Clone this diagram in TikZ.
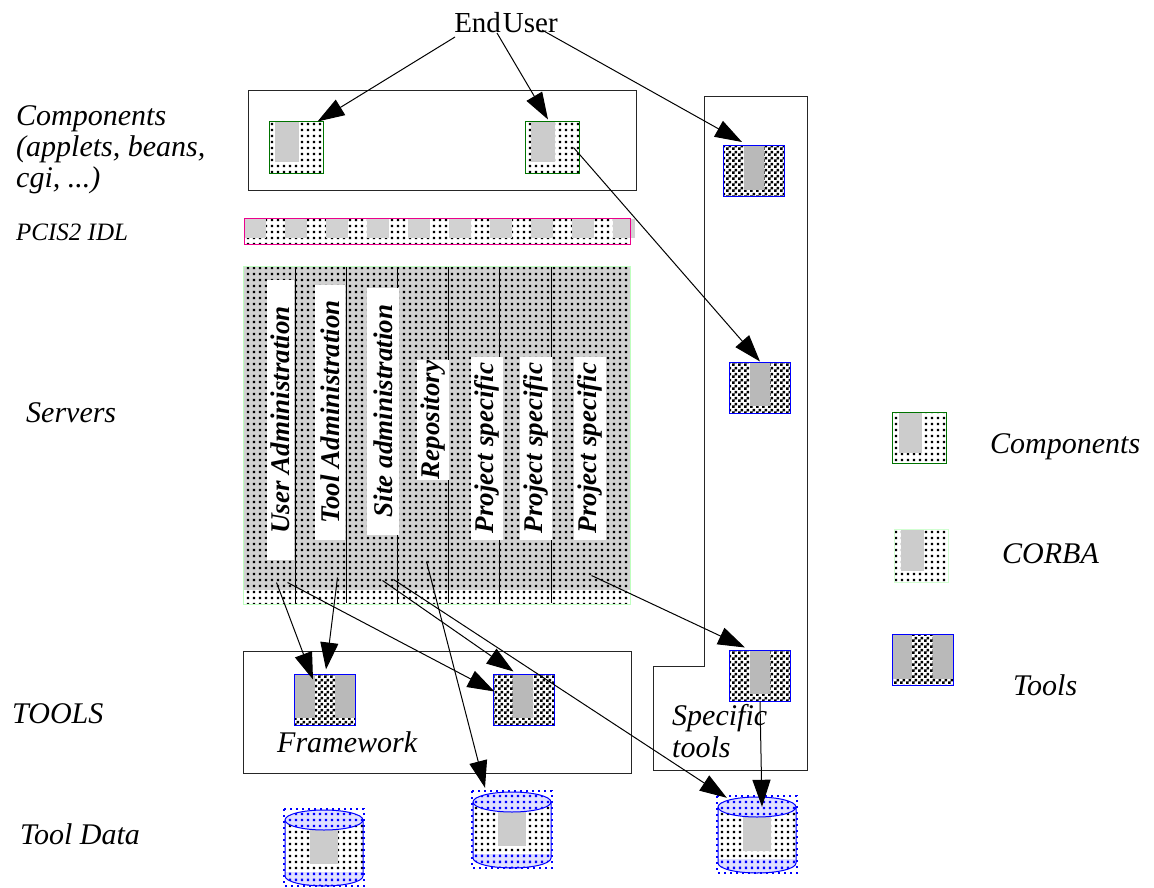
\documentclass[tikz,border=0pt]{standalone}
\usepackage{fontspec}
\setmainfont{Liberation Serif}
\usetikzlibrary{patterns,arrows.meta,calc}

% small black squares on a 6pt grid
\pgfdeclarepatternformonly{sqdots}{\pgfqpoint{0pt}{0pt}}{\pgfqpoint{6pt}{6pt}}{\pgfqpoint{6pt}{6pt}}%
{\pgfpathrectangle{\pgfqpoint{1pt}{1pt}}{\pgfqpoint{2.6pt}{2.6pt}}\pgfusepath{fill}}
% checkerboard with 3pt cells
\pgfdeclarepatternformonly{checker}{\pgfqpoint{0pt}{0pt}}{\pgfqpoint{6pt}{6pt}}{\pgfqpoint{6pt}{6pt}}%
{\pgfpathrectangle{\pgfqpoint{0pt}{0pt}}{\pgfqpoint{3pt}{3pt}}%
 \pgfpathrectangle{\pgfqpoint{3pt}{3pt}}{\pgfqpoint{3pt}{3pt}}\pgfusepath{fill}}

% data store drawn as a dotted cylinder: name, centre x, centre y
\newcommand\datastore[3]{%
  \node[minimum width=78, minimum height=76, inner sep=0] (#1) at (#2,#3) {};
  \begin{scope}[shift={(#2,#3)}]
    \fill[white] (-39,-28) -- (-39,28) arc[start angle=180,end angle=0,x radius=39,y radius=10] -- (39,-28) -- cycle;
    \fill[pattern=sqdots] (-39,-28) -- (-39,28) arc[start angle=180,end angle=0,x radius=39,y radius=10] -- (39,-28) -- cycle;
    \fill[gray!40] (-14,-28) rectangle (14,16);
    \fill[blue!12] (-39,24) -- (-39,28) arc[start angle=180,end angle=0,x radius=39,y radius=10] -- (39,24) -- cycle;
    \fill[pattern=sqdots,pattern color=blue] (-39,24) -- (-39,28) arc[start angle=180,end angle=0,x radius=39,y radius=10] -- (39,24) -- cycle;
    \filldraw[fill=blue!12,draw=blue,line width=1pt] (0,-28) ellipse[x radius=39,y radius=10];
    \fill[pattern=sqdots,pattern color=blue] (0,-28) ellipse[x radius=39,y radius=10];
    \draw[blue,line width=1pt] (-39,-28) -- (-39,28) arc[start angle=180,end angle=0,x radius=39,y radius=10] -- (39,-28);
    \draw[blue,line width=2.4pt,dash pattern=on 2.4pt off 3.6pt] (-40,-39) rectangle (40,38);
  \end{scope}}

\begin{document}
\begin{tikzpicture}[x=1pt,y=-1pt,
  lbl/.style={font=\fontsize{30}{31}\selectfont\itshape, inner sep=0},
  arr/.style={-{Triangle[length=27pt,width=18pt]}, line width=1pt},
  frame/.style={draw=black!85, line width=1pt},
  svlabel/.style={fill=white, inner sep=0, rotate=90,
    font=\fontsize{27}{27}\selectfont\bfseries\itshape},
  comp/.style={draw=green!45!black, line width=1pt, fill=white,
    minimum width=54, minimum height=51, inner sep=0,
    path picture={
      \fill[pattern=sqdots] (path picture bounding box.south west) rectangle (path picture bounding box.north east);
      \fill[gray!40] ($(path picture bounding box.north west)!0.12!(path picture bounding box.north east)$)
        rectangle ($(path picture bounding box.south west)!0.55!(path picture bounding box.south east)+(0,-11)$);}},
  tool/.style={draw=blue, line width=1pt, fill=white,
    minimum width=61, minimum height=51, inner sep=0,
    path picture={
      \fill[pattern=checker] (path picture bounding box.south west) rectangle (path picture bounding box.north east);
      \fill[gray!55] ($(path picture bounding box.north west)!0.33!(path picture bounding box.north east)$)
        rectangle ($(path picture bounding box.south west)!0.66!(path picture bounding box.south east)+(0,-7)$);}},
  toolsides/.style={draw=blue, line width=1pt, fill=white,
    minimum width=61, minimum height=51, inner sep=0,
    path picture={
      \fill[pattern=checker] (path picture bounding box.south west) rectangle (path picture bounding box.north east);
      \fill[gray!55] (path picture bounding box.north west)
        rectangle ($(path picture bounding box.south west)!0.33!(path picture bounding box.south east)+(0,-7)$);
      \fill[gray!55] ($(path picture bounding box.north west)!0.67!(path picture bounding box.north east)$)
        rectangle ($(path picture bounding box.south east)+(0,-7)$);}}
]
\useasboundingbox (0,0) rectangle (1154,888);

% ---- row labels ----
\node[lbl, anchor=north west, align=left] (lcomp) at (16,105) {Components\\(applets, beans,\\cgi, ...)};
\node[lbl, anchor=base west, font=\fontsize{25}{25}\selectfont\itshape] (lidl) at (16,240) {PCIS2 IDL};
\node[lbl, anchor=base west] (lsrv) at (26,422) {Servers};
\node[lbl, anchor=base west] (ltools) at (12,723) {TOOLS};
\node[lbl, anchor=base west] (ldata) at (20,844) {Tool Data};

% ---- end user ----
\node[inner sep=0, anchor=base, font=\fontsize{29}{29}\selectfont] (eu) at (506,33) {End\hspace{2pt}User};

% ---- components layer ----
\node[frame, minimum width=388, minimum height=99, inner sep=0] (cbox) at (442,140.5) {};
\node[comp] (c1) at (296,147.5) {};
\node[comp] (c2) at (552,147.5) {};

% ---- PCIS2 IDL bar ----
\fill[white] (244,218) rectangle (630,244);
\fill[pattern=sqdots] (244,218) rectangle (630,244);
\foreach \i in {0,...,9} {
  \fill[gray!35] ({244+41*\i},219) rectangle ({266+41*\i},238);
}
\node[draw=magenta, line width=1pt, minimum width=386, minimum height=26, inner sep=0] (idl) at (437,231) {};

% ---- servers block ----
\fill[gray!36] (243,266) rectangle (630,590);
\fill[pattern=sqdots] (243,266) rectangle (630,604);
\node[draw=green!25, line width=1pt, minimum width=387, minimum height=338, inner sep=0] (sv) at (436.5,435) {};
\foreach \x in {295,346,397,448,499,551} {
  \draw[line width=0.9pt] (\x,267) -- (\x,603);
}
\node[svlabel, minimum width=280, minimum height=27] (s1) at (280,420) {User Administration};
\node[svlabel, minimum width=255, minimum height=30] (s2) at (330,412) {Tool Administration};
\node[svlabel, minimum width=247, minimum height=32] (s3) at (383,411) {Site administration};
\node[svlabel, minimum width=120, minimum height=32] (s4) at (433,420) {Repository};
\node[svlabel, minimum width=183, minimum height=32] (s5) at (487,448) {Project specific};
\node[svlabel, minimum width=183, minimum height=32] (s6) at (536,448) {Project specific};
\node[svlabel, minimum width=183, minimum height=32] (s7) at (590,448) {Project specific};

% arrow origins inside the server columns
\coordinate (sA) at ($(sv.north west)+(34,317)$);
\coordinate (sB) at ($(sv.north west)+(95,312)$);
\coordinate (sC) at ($(sv.north west)+(45,317)$);
\coordinate (sD) at ($(sv.north west)+(140,315)$);
\coordinate (sE) at ($(sv.north west)+(151,314)$);
\coordinate (sF) at ($(sv.north west)+(184,296)$);
\coordinate (sG) at ($(sv.north west)+(349,310)$);

% ---- specific tools column ----
\draw[frame] (704,97) -- (807,97) -- (807,770) -- (653,770) -- (653,666) -- (704,666) -- cycle;
\node[tool] (t1) at (754,171) {};
\node[tool] (t2) at (760,387.5) {};
\node[tool] (t3) at (760,675.5) {};
\node[lbl, anchor=base west, align=left] (lspec) at (672,725) {Specific};
\node[lbl, anchor=base west] (lspec2) at (672,757) {tools};

% ---- framework tools ----
\node[frame, minimum width=388, minimum height=122, inner sep=0] (fw) at (437,712) {};
\node[toolsides] (t4) at (325,699.5) {};
\node[tool] (t5) at (523.5,699.5) {};
\node[lbl, anchor=base west] (lfw) at (277,752) {Framework};

% ---- tool data ----
\datastore{d1}{324}{848}
\datastore{d2}{512}{830}
\datastore{d3}{757}{835}

% ---- legend ----
\node[comp] (lgc) at (919.5,438) {};
\node[lbl, anchor=base west] (lgct) at (990,453) {Components};
\node[comp, draw=green!18, minimum height=53] (lgo) at (921.5,555.5) {};
\node[lbl, anchor=base west] (lgot) at (1002,563) {CORBA};
\node[toolsides] (lgt) at (922.5,660) {};
\node[lbl, anchor=base west] (lgtt) at (1013,695) {Tools};

% ---- connectors ----
\draw[arr] ($(eu.base)+(-51,4)$) -- ($(c1.north east)+(-6,0)$);
\draw[arr] ($(eu.base)+(-9,0)$) -- ($(c2.north)+(-4,-2)$);
\draw[arr] ($(eu.base)+(36,-3)$) -- ($(t1.north)+(-12,-3)$);
\draw[arr] ($(c2.east)+(-6,0)$) -- (t2.north);
\draw[arr] (sA) -- ($(t4.north west)+(19,6)$);
\draw[arr] (sB) -- ($(t4.north)+(1,-4)$);
\draw[arr] (sC) -- ($(t5.west)+(2,-8)$);
\draw[arr] (sD) -- ($(t5.north)+(-10,-2)$);
\draw[arr] (sE) -- ($(d3.north west)+(9,1)$);
\draw[arr] (sF) -- ($(d2.north)+(-27,-4)$);
\draw[arr] (sG) -- ($(t3.north)+(-15,-2)$);
\draw[arr] (t3.south) -- ($(d3.north)+(5,10)$);
\end{tikzpicture}
\end{document}
